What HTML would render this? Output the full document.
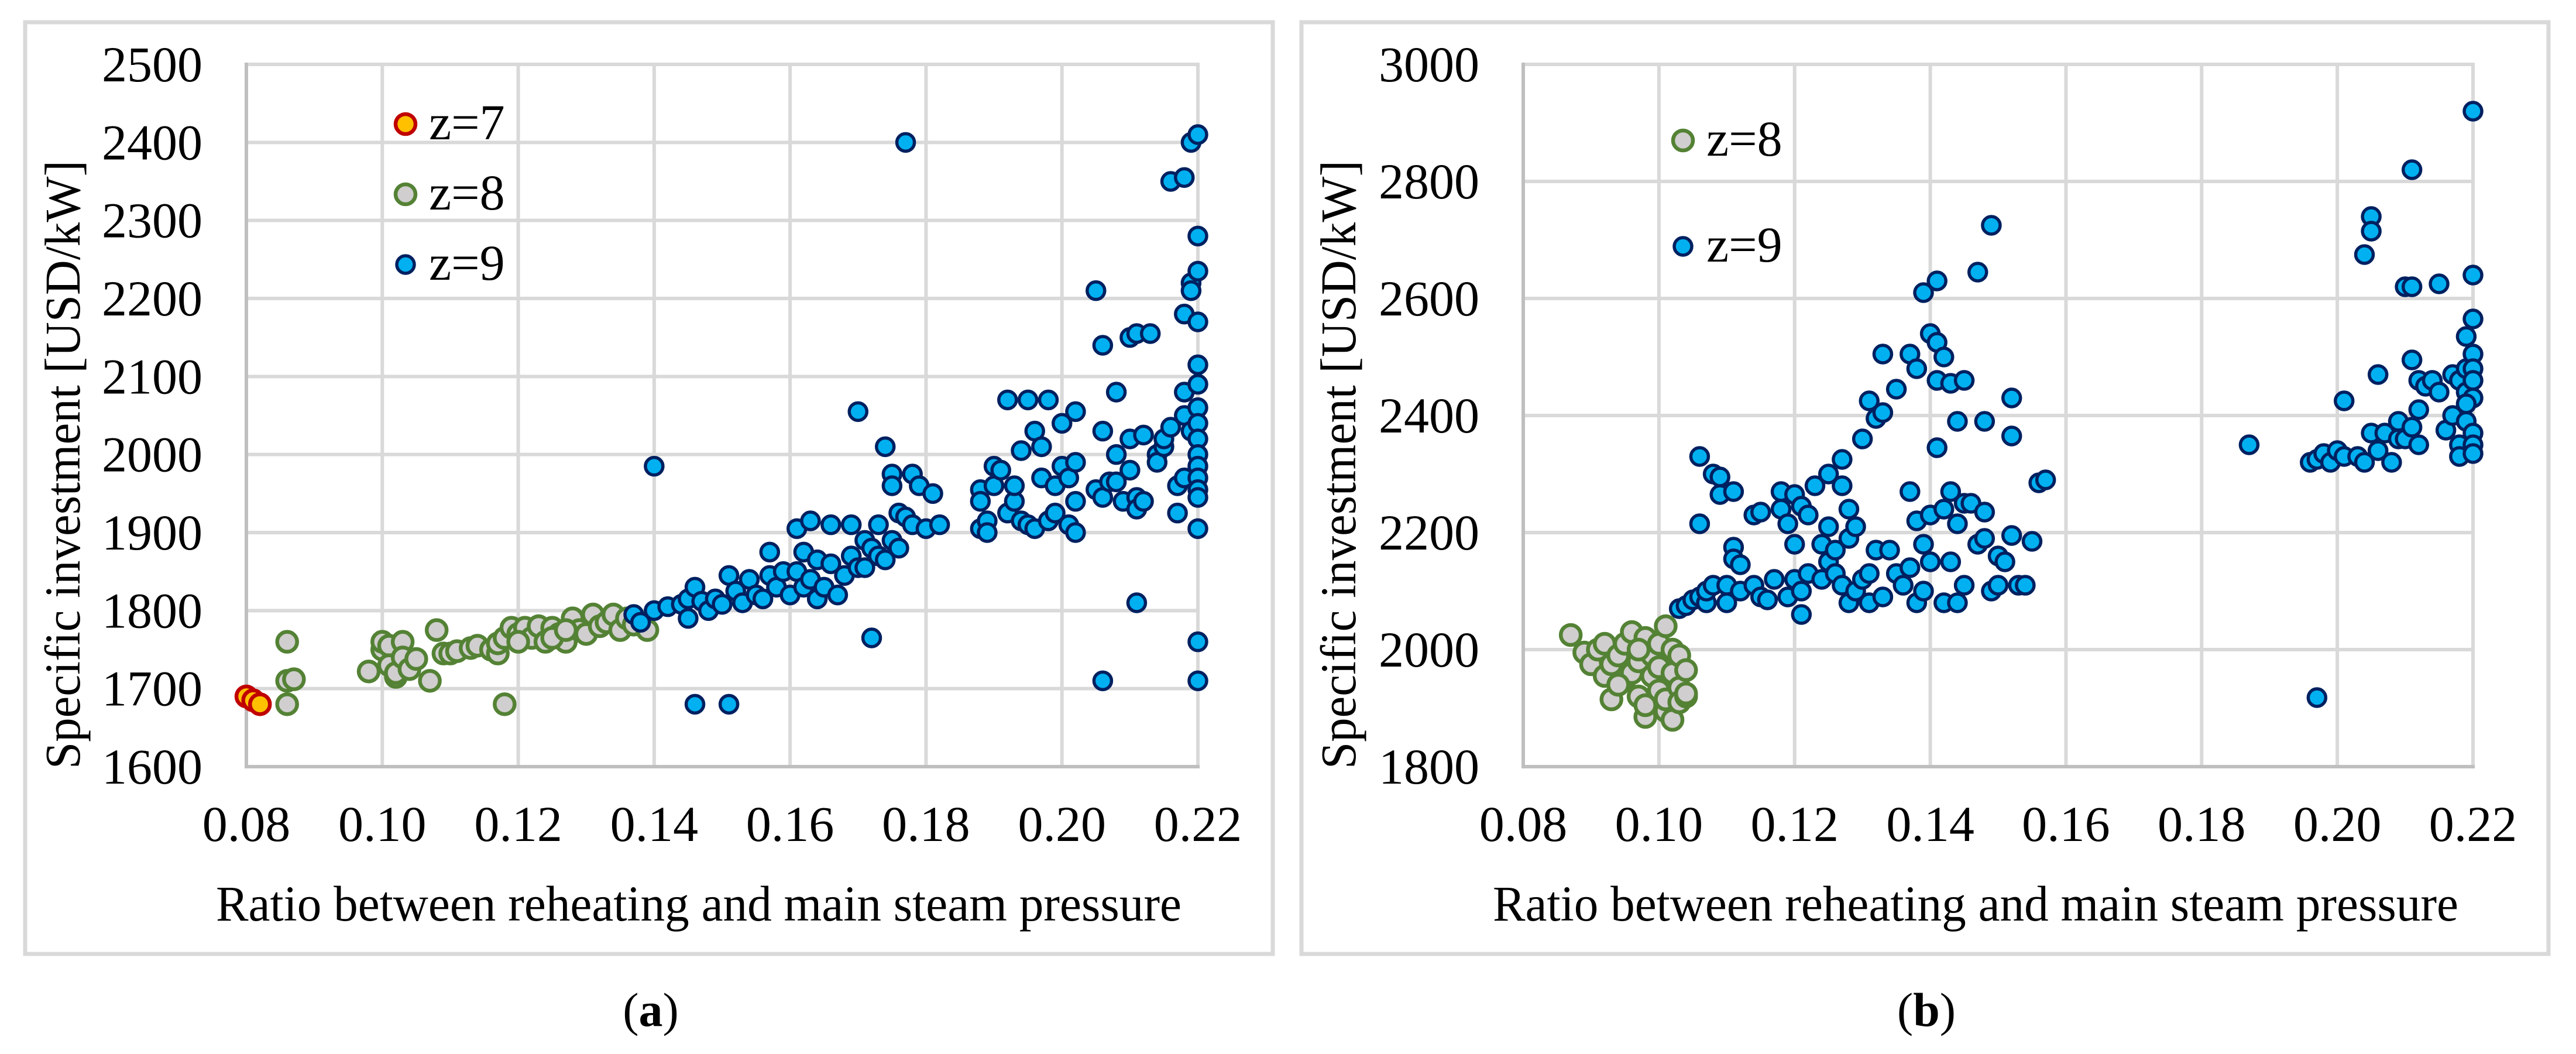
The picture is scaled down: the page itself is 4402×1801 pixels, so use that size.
<!DOCTYPE html>
<html><head><meta charset="utf-8"><style>
html,body{margin:0;padding:0;background:#fff;}
svg{display:block;}
text{font-family:"Liberation Serif",serif;fill:#000;}
</style></head><body>
<svg id="fig" width="4402" height="1801" viewBox="0 0 4402 1801" xmlns="http://www.w3.org/2000/svg">
<g id="panelA"></g>
<g id="panelB"></g>
</svg>
<script>
// ---- Data: panel (a) ----
const xTicks = [0.08,0.10,0.12,0.14,0.16,0.18,0.20,0.22];
const xTickLabels = ["0.08","0.10","0.12","0.14","0.16","0.18","0.20","0.22"];
const yTicksA = [1600,1700,1800,1900,2000,2100,2200,2300,2400,2500];
const yTicksB = [1800,2000,2200,2400,2600,2800,3000];
const aZ7x = [0.080,0.081,0.082];
const aZ7y = [1690,1685,1680];
const aZ8x = [0.086,0.086,0.086,0.087,0.098,0.100,0.100,0.101,0.101,0.102,0.102,0.103,0.103,0.104,0.105,0.107,0.108,0.109,0.110,0.111,0.113,0.114,0.116,0.117,0.117,0.118,0.118,0.119,0.120,0.121,0.122,0.123,0.124,0.125,0.126,0.127,0.128,0.129,0.130,0.131,0.132,0.133,0.134,0.135,0.136,0.137,0.139,0.120,0.125,0.127];
const aZ8y = [1760,1710,1680,1712,1722,1750,1760,1755,1730,1715,1720,1760,1740,1725,1738,1710,1775,1745,1745,1748,1752,1755,1750,1745,1758,1765,1680,1778,1770,1778,1765,1780,1760,1778,1770,1760,1790,1775,1770,1795,1780,1785,1795,1775,1790,1782,1775,1760,1765,1775];
const aZ9x = [0.137,0.138,0.140,0.140,0.142,0.144,0.145,0.145,0.146,0.146,0.147,0.148,0.149,0.150,0.151,0.151,0.152,0.153,0.154,0.155,0.156,0.157,0.157,0.158,0.159,0.160,0.161,0.161,0.162,0.162,0.163,0.163,0.164,0.164,0.165,0.166,0.166,0.167,0.168,0.169,0.169,0.170,0.170,0.171,0.171,0.172,0.172,0.173,0.173,0.174,0.174,0.175,0.175,0.175,0.176,0.176,0.177,0.177,0.178,0.178,0.179,0.180,0.181,0.182,0.188,0.188,0.188,0.189,0.189,0.190,0.190,0.191,0.192,0.192,0.193,0.193,0.194,0.194,0.195,0.195,0.196,0.196,0.197,0.197,0.198,0.198,0.199,0.199,0.200,0.200,0.201,0.201,0.202,0.202,0.202,0.202,0.205,0.205,0.206,0.206,0.206,0.206,0.207,0.208,0.208,0.208,0.209,0.210,0.210,0.210,0.211,0.211,0.211,0.211,0.212,0.212,0.213,0.214,0.214,0.215,0.215,0.216,0.216,0.217,0.217,0.218,0.218,0.218,0.218,0.218,0.219,0.219,0.219,0.219,0.220,0.220,0.220,0.220,0.220,0.220,0.220,0.220,0.220,0.220,0.220,0.220,0.220,0.220,0.220,0.220,0.220];
const aZ9y = [1795,1785,1985,1800,1805,1808,1790,1815,1830,1680,1812,1800,1815,1808,1845,1680,1825,1810,1840,1820,1815,1845,1875,1830,1850,1820,1850,1905,1875,1830,1840,1915,1865,1815,1830,1910,1860,1820,1845,1910,1870,1855,2055,1890,1855,1880,1765,1910,1870,1865,2010,1975,1890,1960,1925,1880,2400,1920,1975,1910,1960,1905,1950,1910,1905,1955,1940,1915,1900,1985,1960,1980,1925,2070,1940,1960,1915,2005,2070,1910,2030,1905,1970,2010,2070,1915,1925,1960,2040,1985,1910,1970,1990,2055,1940,1900,2210,1955,2140,2030,1710,1945,1965,2080,2000,1965,1940,2020,1980,2150,2155,1945,1930,1810,2025,1940,2155,2000,1990,2010,2020,2350,2035,1925,1960,2355,2180,2080,2050,1970,2220,2400,2210,2030,2410,2280,2235,2170,2115,2090,2060,2040,2020,2000,1985,1970,1955,1945,1905,1760,1710];
// ---- Data: panel (b) ----
const bZ8x = [0.087,0.089,0.090,0.091,0.092,0.092,0.093,0.093,0.094,0.095,0.095,0.096,0.096,0.097,0.097,0.098,0.098,0.098,0.099,0.099,0.100,0.100,0.100,0.101,0.101,0.101,0.102,0.102,0.102,0.103,0.103,0.103,0.104,0.104,0.104,0.097,0.094];
const bZ8y = [2025,1995,1975,2000,1955,2010,1915,1975,1990,2010,1950,2030,1960,1920,1980,2020,1885,1905,1990,1955,2010,1930,1970,2040,1895,1915,1880,2000,1960,1990,1935,1910,1965,1920,1925,2000,1940];
const bZ9x = [0.103,0.104,0.105,0.106,0.106,0.106,0.107,0.107,0.108,0.108,0.109,0.109,0.110,0.110,0.111,0.111,0.111,0.112,0.112,0.114,0.114,0.115,0.115,0.116,0.117,0.118,0.118,0.119,0.119,0.120,0.120,0.120,0.121,0.121,0.121,0.122,0.122,0.123,0.124,0.124,0.125,0.125,0.125,0.126,0.126,0.127,0.127,0.127,0.128,0.128,0.128,0.129,0.129,0.130,0.130,0.131,0.131,0.131,0.132,0.132,0.133,0.133,0.133,0.134,0.135,0.135,0.136,0.137,0.137,0.137,0.138,0.138,0.138,0.139,0.139,0.139,0.140,0.140,0.140,0.141,0.141,0.141,0.141,0.142,0.142,0.142,0.143,0.143,0.143,0.144,0.144,0.144,0.145,0.145,0.145,0.146,0.147,0.147,0.148,0.148,0.148,0.149,0.149,0.150,0.150,0.151,0.152,0.152,0.152,0.153,0.154,0.155,0.156,0.157,
0.187,0.196,0.197,0.197,0.198,0.199,0.200,0.201,0.201,0.203,0.204,0.204,0.205,0.205,0.205,0.206,0.206,0.207,0.208,0.209,0.209,0.210,0.210,0.211,0.211,0.211,0.211,0.212,0.212,0.212,0.213,0.214,0.215,0.215,0.216,0.217,0.217,0.218,0.218,0.218,0.219,0.219,0.219,0.219,0.220,0.220,0.220,0.220,0.220,0.220,0.220,0.220,0.220,0.220,0.219];
const bZ9y = [2070,2075,2085,2090,2215,2330,2080,2100,2110,2300,2265,2295,2110,2080,2175,2270,2155,2145,2100,2110,2230,2090,2235,2085,2120,2270,2240,2215,2090,2180,2265,2120,2245,2060,2100,2230,2130,2280,2180,2120,2210,2300,2150,2130,2170,2280,2325,2110,2190,2080,2240,2210,2100,2360,2120,2130,2425,2080,2170,2395,2405,2505,2090,2170,2445,2130,2110,2505,2270,2140,2480,2220,2080,2610,2180,2100,2540,2150,2230,2525,2345,2630,2460,2500,2240,2080,2150,2270,2455,2390,2215,2080,2110,2460,2250,2250,2645,2180,2390,2190,2235,2100,2725,2110,2160,2150,2430,2195,2365,2110,2110,2185,2285,2290,
2350,2320,2325,1918,2335,2320,2340,2425,2330,2330,2675,2320,2740,2715,2370,2470,2340,2370,2320,2390,2360,2620,2360,2820,2620,2495,2380,2460,2410,2350,2450,2460,2625,2440,2375,2470,2400,2460,2350,2330,2480,2440,2535,2390,2920,2640,2565,2505,2480,2460,2430,2370,2350,2335,2420];

const NS = "http://www.w3.org/2000/svg";
function mk(parent, tag, attrs, txt){
  const e = document.createElementNS(NS, tag);
  for (const k in attrs) e.setAttribute(k, attrs[k]);
  if (txt !== undefined) e.textContent = txt;
  parent.appendChild(e);
  return e;
}
const STY = {
  z7:{fill:"#ffc000", stroke:"#c00000", r:17, sw:6.5},
  z8:{fill:"#d0cece", stroke:"#548235", r:17, sw:6.5},
  z9:{fill:"#00b0f0", stroke:"#002060", r:15, sw:5.5}
};
function panel(g, cfg){
  const sx = v => cfg.px0 + (v - cfg.xmin)/(cfg.xmax - cfg.xmin)*(cfg.px1 - cfg.px0);
  const sy = v => cfg.py0 - (v - cfg.ymin)/(cfg.ymax - cfg.ymin)*(cfg.py0 - cfg.py1);
  const box = mk(g,"rect",{x:cfg.bx0,y:cfg.by0,width:cfg.bx1-cfg.bx0,height:cfg.by1-cfg.by0,fill:"none",stroke:"#d9d9d9","stroke-width":7});
  
  
  const grid = mk(g,"g",{});
  
  
  cfg.yTicks.forEach(t=>{ if(t!==cfg.ymin) mk(grid,"line",{x1:cfg.px0,x2:cfg.px1,y1:sy(t),y2:sy(t),stroke:"#d9d9d9","stroke-width":6}); });
  xTicks.forEach(t=>{ if(t!==cfg.xmin) mk(grid,"line",{x1:sx(t),x2:sx(t),y1:cfg.py1-3,y2:cfg.py0,stroke:"#d9d9d9","stroke-width":6}); });
  const ax = mk(g,"path",{d:`M${cfg.px0} ${cfg.py1-3} V${cfg.py0} H${cfg.px1+3}`,fill:"none",stroke:"#bfbfbf","stroke-width":6});
  
  
  cfg.yTicks.forEach(t=>{
    const tl = mk(g,"text",{x:cfg.px0-75,y:sy(t)+29,"font-size":86,"text-anchor":"end"},String(t));
    
    
  });
  xTicks.forEach((t,i)=>{
    const tl = mk(g,"text",{x:sx(t),y:cfg.py0+127,"font-size":86,"text-anchor":"middle"},xTickLabels[i]);
    
    
  });
  const xt = mk(g,"text",{x:cfg.xtx,y:1573,"font-size":86,"text-anchor":"middle",textLength:1650,lengthAdjust:"spacingAndGlyphs"},"Ratio between reheating and main steam pressure");
  
  
  const yt = mk(g,"text",{x:0,y:0,"font-size":86,"text-anchor":"middle",textLength:1040,lengthAdjust:"spacingAndGlyphs",transform:`translate(${cfg.ytx+29},794) rotate(-90)`},"Specific investment [USD/kW]");
  
  
  cfg.series.forEach(s=>{
    const sg = mk(g,"g",{});
    
    
    const st = STY[s.key];
    s.xs.forEach((xv,i)=>{
      const c = mk(sg,"circle",{cx:sx(xv),cy:sy(s.ys[i]),r:st.r,fill:st.fill,stroke:st.stroke,"stroke-width":st.sw});
      
      
    });
  });
  cfg.legend.forEach((l,i)=>{
    const lg = mk(g,"g",{});
    
    
    const st = STY[l.key];
    mk(lg,"circle",{cx:cfg.lx,cy:l.y,r:st.r,fill:st.fill,stroke:st.stroke,"stroke-width":st.sw});
    mk(lg,"text",{x:cfg.lx+40,y:l.y+26,"font-size":86},l.label);
  });
  const cap = mk(g,"text",{x:cfg.capx,y:1753,"font-size":82,"text-anchor":"middle"},"");
  
  
  mk(cap,"tspan",{},"(");
  mk(cap,"tspan",{"font-weight":"bold"},cfg.cap);
  mk(cap,"tspan",{},")");
}
panel(document.getElementById("panelA"),{
  bx0:43,by0:38,bx1:2175,by1:1630,px0:421,px1:2047,py0:1310,py1:110,
  xmin:0.08,xmax:0.22,ymin:1600,ymax:2500,yTicks:yTicksA,xtx:1194,ytx:107,capx:1112,cap:"a",
  series:[{key:"z8",xs:aZ8x,ys:aZ8y},{key:"z9",xs:aZ9x,ys:aZ9y},{key:"z7",xs:aZ7x,ys:aZ7y}],
  lx:693,legend:[{key:"z7",y:212,label:"z=7"},{key:"z8",y:332,label:"z=8"},{key:"z9",y:452,label:"z=9"}]
});
panel(document.getElementById("panelB"),{
  bx0:2224,by0:38,bx1:4355,by1:1630,px0:2603,px1:4226,py0:1310,py1:110,
  xmin:0.08,xmax:0.22,ymin:1800,ymax:3000,yTicks:yTicksB,xtx:3376,ytx:2287,capx:3292,cap:"b",
  series:[{key:"z8",xs:bZ8x,ys:bZ8y},{key:"z9",xs:bZ9x,ys:bZ9y}],
  lx:2876,legend:[{key:"z8",y:240,label:"z=8"},{key:"z9",y:421,label:"z=9"}]
});
</script>
</body></html>
